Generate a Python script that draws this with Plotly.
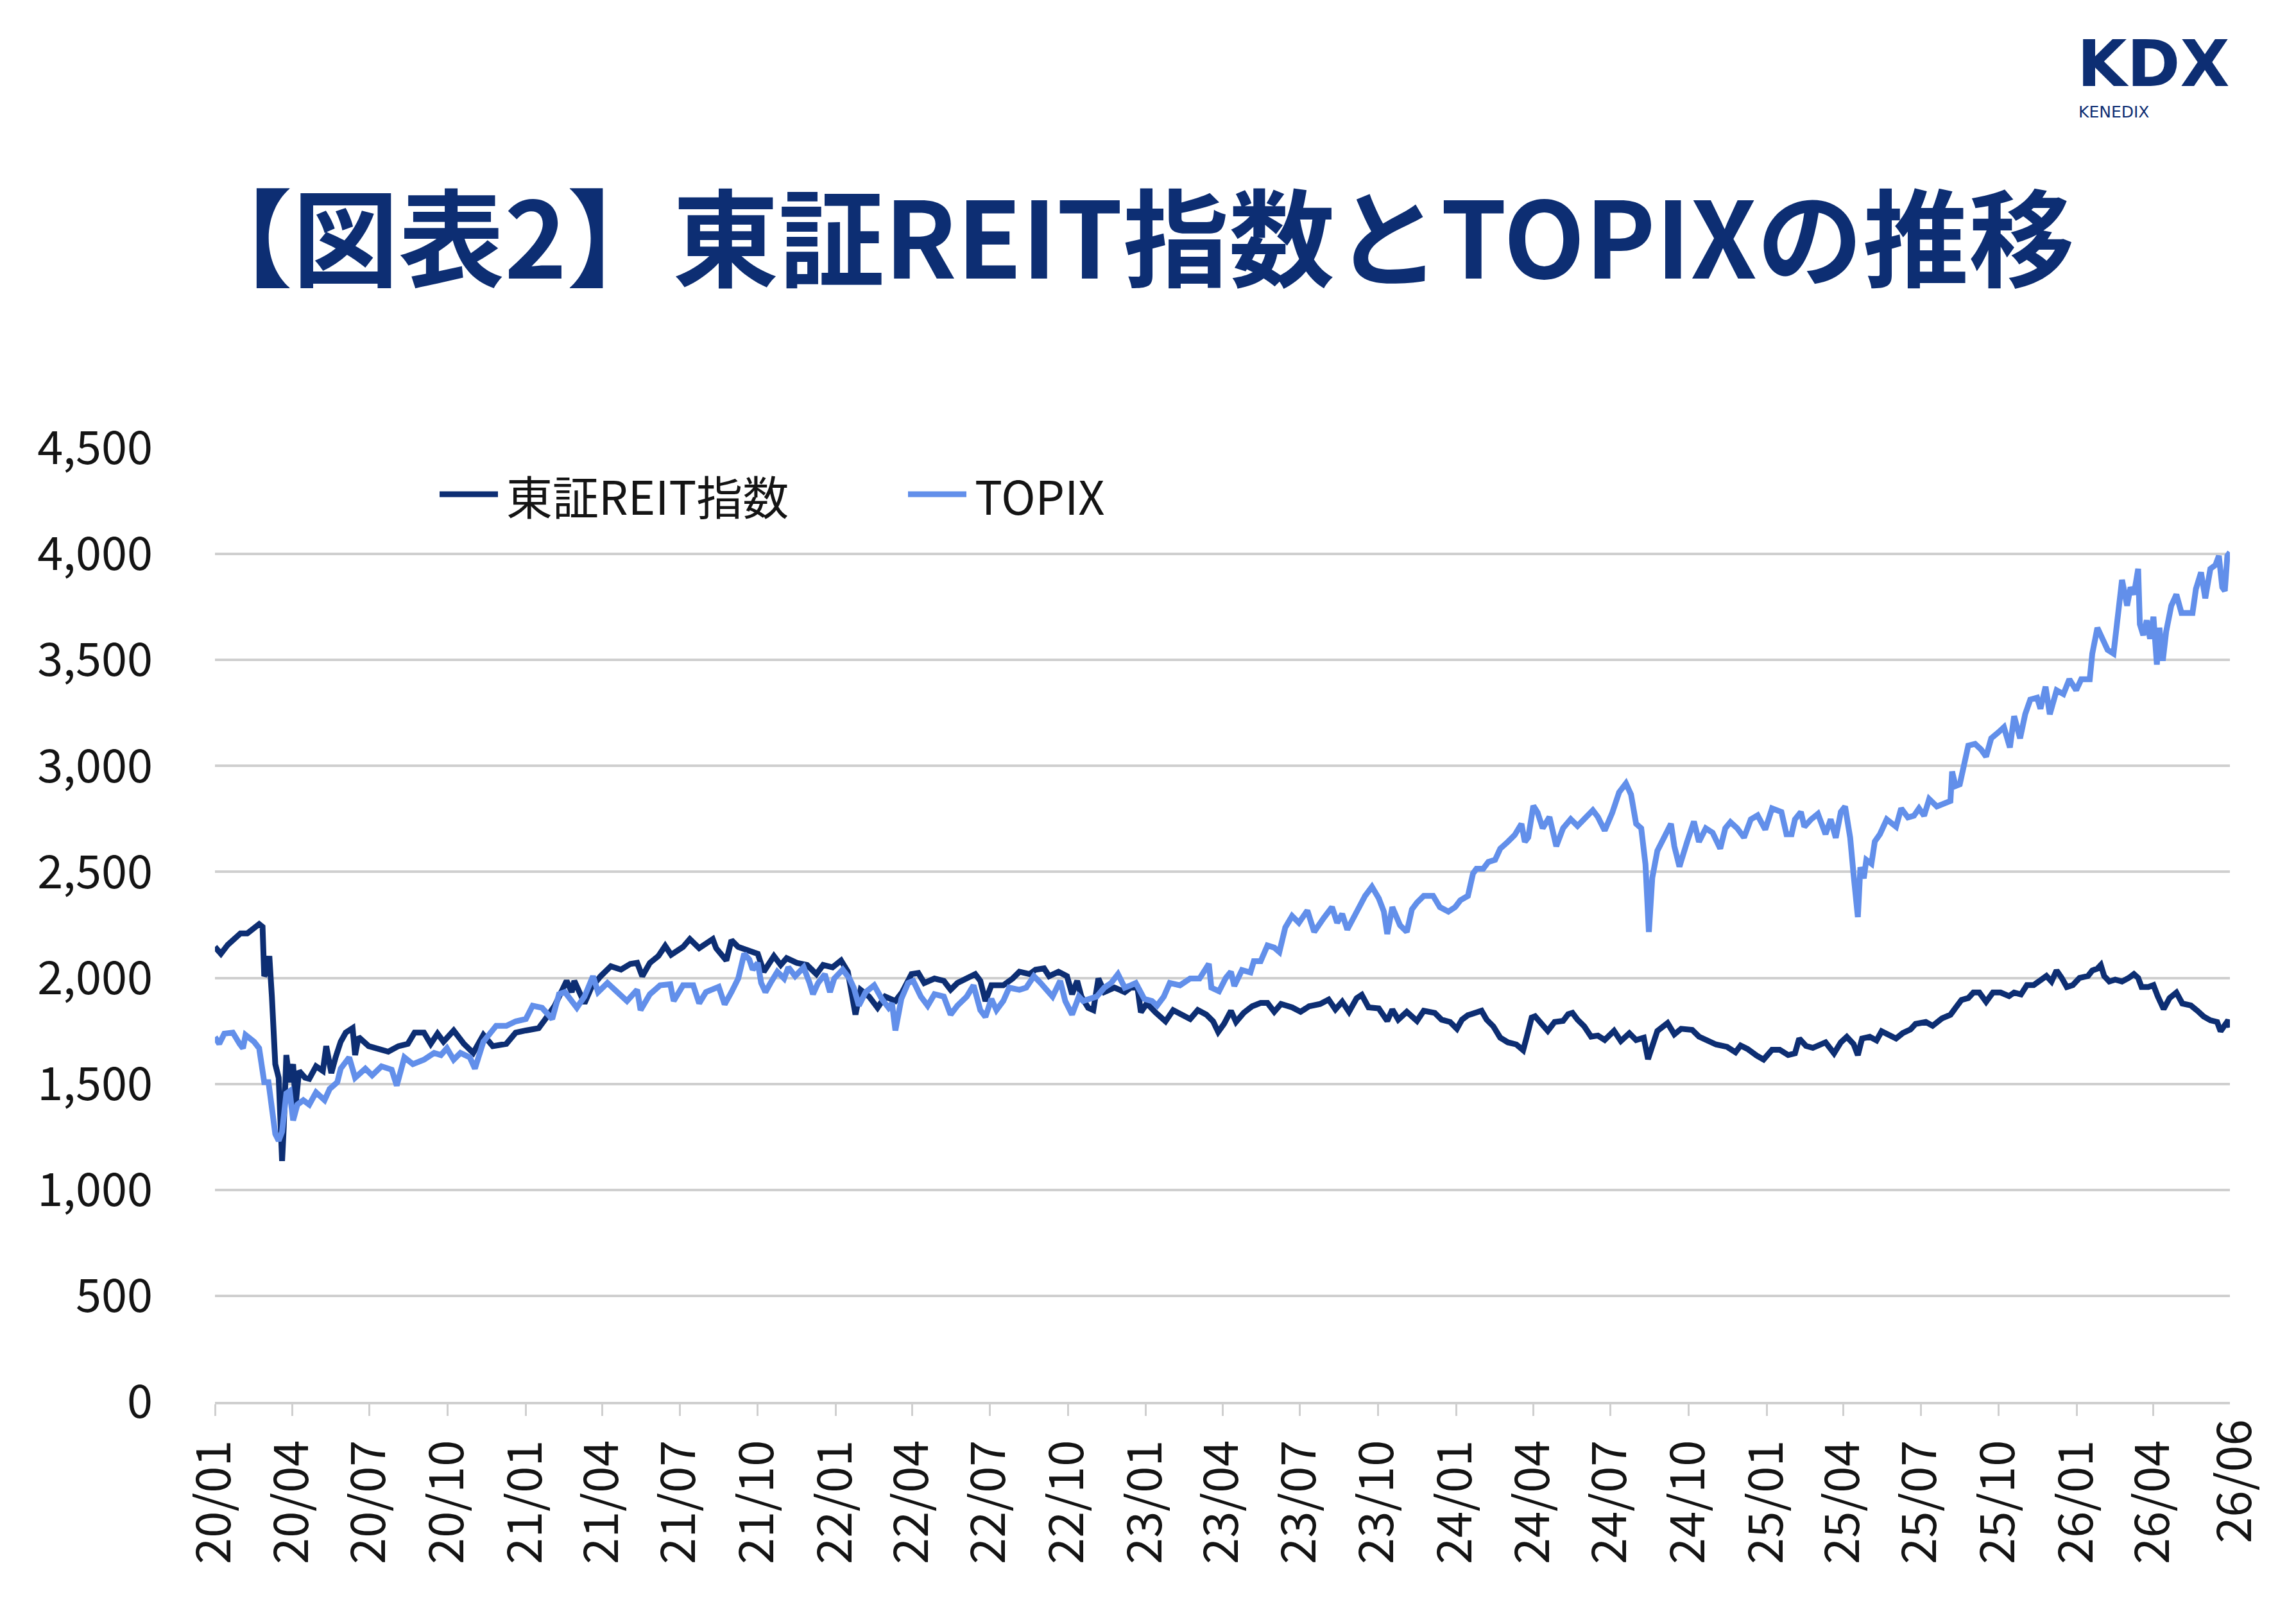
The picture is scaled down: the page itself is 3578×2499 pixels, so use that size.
import pandas as pd
import plotly.graph_objects as go

# ---- data (day offset from 2020-01-01, index value) ----
reit_day = [0, 7, 15, 23, 30, 38, 46, 52, 56, 58, 62, 64, 67, 71, 75, 79, 81, 84, 88, 92, 95, 99, 106, 111,
            119, 127, 131, 137, 142, 148, 154, 162, 165, 169, 181, 192, 204, 216, 227, 235, 246, 254, 262,
            269, 281, 293, 304, 316, 327, 343, 354, 366, 381, 389, 400, 414, 420, 423, 435, 443, 454, 466,
            478, 489, 497, 503, 512, 522, 530, 537, 551, 559, 570, 586, 590, 602, 608, 616, 623, 639, 646,
            658, 666, 673, 685, 697, 708, 716, 727, 737, 745, 751, 754, 760, 770, 780, 789, 801, 809, 820,
            828, 835, 847, 858, 866, 874, 885, 895, 901, 907, 914, 928, 939, 947, 959, 966, 976, 982, 993,
            1003, 1009, 1015, 1020, 1028, 1034, 1040, 1047, 1059, 1065, 1071, 1078, 1086, 1090, 1097, 1107,
            1119, 1128, 1140, 1148, 1157, 1167, 1175, 1181, 1188, 1196, 1202, 1211, 1221, 1231, 1239, 1247,
            1255, 1268, 1278, 1288, 1301, 1311, 1319, 1327, 1335, 1344, 1350, 1358, 1370, 1380, 1386, 1393,
            1403, 1415, 1423, 1436, 1444, 1454, 1462, 1468, 1475, 1485, 1491, 1497, 1505, 1513, 1522, 1532,
            1540, 1544, 1550, 1554, 1563, 1569, 1577, 1587, 1593, 1598, 1604, 1612, 1620, 1628, 1636, 1647,
            1655, 1665, 1673, 1682, 1687, 1692, 1698, 1710, 1718, 1726, 1739, 1747, 1755, 1767, 1780, 1790,
            1796, 1804, 1815, 1823, 1833, 1842, 1852, 1860, 1865, 1873, 1881, 1889, 1896, 1906, 1914, 1921,
            1929, 1934, 1939, 1948, 1956, 1962, 1970, 1979, 1987, 1996, 2002, 2014, 2022, 2033, 2043, 2050,
            2056, 2064, 2070, 2077, 2085, 2093, 2102, 2112, 2118, 2126, 2133, 2141, 2149, 2156, 2162, 2168,
            2174, 2180, 2187, 2195, 2205, 2210, 2216, 2220, 2224, 2230, 2237, 2245, 2253, 2259, 2264, 2268,
            2276, 2282, 2287, 2294, 2301, 2309, 2316, 2326, 2334, 2341, 2349, 2357, 2361, 2366, 2370, 2372]
reit_val = [2146, 2114, 2156, 2188, 2210, 2210, 2236, 2254, 2241, 2008, 2040, 2103, 1912, 1593, 1529, 1136,
            1296, 1636, 1508, 1593, 1402, 1561, 1529, 1524, 1583, 1561, 1678, 1551, 1625, 1699, 1742, 1763,
            1636, 1721, 1678, 1668, 1652, 1678, 1689, 1742, 1742, 1689, 1737, 1699, 1752, 1689, 1646, 1731,
            1678, 1689, 1742, 1752, 1763, 1806, 1869, 1986, 1933, 1986, 1880, 1954, 2008, 2055, 2039, 2066,
            2071, 2008, 2071, 2103, 2151, 2109, 2146, 2183, 2140, 2183, 2140, 2082, 2178, 2146, 2135, 2114,
            2029, 2103, 2061, 2093, 2071, 2061, 2018, 2061, 2050, 2082, 2029, 1912, 1827, 1944, 1912, 1859,
            1912, 1891, 1933, 2018, 2023, 1976, 1997, 1986, 1944, 1976, 1997, 2018, 1986, 1891, 1965, 1965,
            1997, 2029, 2018, 2039, 2045, 2008, 2029, 2008, 1923, 1986, 1912, 1859, 1848, 1997, 1933, 1954,
            1944, 1933, 1954, 1954, 1838, 1880, 1838, 1795, 1848, 1827, 1806, 1848, 1827, 1795, 1745, 1784,
            1845, 1792, 1835, 1866, 1882, 1882, 1840, 1877, 1861, 1840, 1866, 1877, 1898, 1851, 1888, 1840,
            1904, 1920, 1861, 1856, 1797, 1851, 1803, 1840, 1797, 1845, 1835, 1803, 1792, 1760, 1803, 1824,
            1840, 1845, 1803, 1771, 1718, 1696, 1686, 1659, 1718, 1813, 1819, 1781, 1750, 1792, 1797, 1829,
            1835, 1803, 1771, 1723, 1728, 1707, 1750, 1702, 1739, 1707, 1718, 1617, 1686, 1750, 1787, 1734,
            1760, 1755, 1723, 1707, 1686, 1675, 1649, 1681, 1665, 1633, 1615, 1661, 1661, 1636, 1644, 1714,
            1679, 1670, 1688, 1696, 1644, 1696, 1722, 1688, 1636, 1714, 1722, 1705, 1748, 1731, 1714, 1740,
            1757, 1783, 1792, 1774, 1809, 1826, 1861, 1896, 1905, 1931, 1931, 1887, 1931, 1931, 1914, 1931,
            1922, 1966, 1966, 1992, 2009, 1983, 2035, 2000, 1957, 1966, 2000, 2009, 2035, 2044, 2061, 2009,
            1983, 1992, 1983, 2000, 2018, 2000, 1957, 1957, 1966, 1914, 1853, 1905, 1931, 1879, 1870, 1844,
            1818, 1800, 1792, 1748, 1774, 1800, 1766]

topix_day = [0, 5, 11, 21, 29, 33, 36, 46, 52, 54, 58, 63, 67, 71, 75, 79, 84, 88, 92, 97, 104, 111, 119,
             129, 135, 144, 148, 158, 165, 177, 185, 196, 208, 214, 223, 233, 246, 258, 266, 273, 281, 289,
             300, 306, 316, 331, 343, 354, 366, 374, 385, 397, 405, 412, 426, 435, 445, 451, 462, 478, 485,
             497, 501, 512, 524, 536, 540, 551, 563, 570, 578, 593, 600, 608, 616, 623, 629, 633, 639, 643,
             648, 654, 662, 670, 675, 683, 693, 700, 704, 710, 718, 724, 729, 739, 747, 752, 758, 766, 776,
             785, 793, 797, 801, 808, 816, 822, 831, 839, 847, 858, 866, 874, 885, 893, 901, 907, 914, 920,
             928, 935, 947, 955, 964, 972, 978, 986, 995, 1001, 1009, 1017, 1022, 1028, 1038, 1047, 1055,
             1063, 1071, 1078, 1084, 1094, 1103, 1109, 1117, 1124, 1136, 1148, 1159, 1170, 1173, 1182, 1190,
             1196, 1200, 1209, 1219, 1223, 1231, 1239, 1247, 1253, 1260, 1268, 1276, 1286, 1294, 1305, 1315,
             1321, 1327, 1333, 1346, 1354, 1362, 1370, 1376, 1380, 1386, 1395, 1403, 1409, 1415, 1423, 1434,
             1442, 1452, 1460, 1466, 1475, 1481, 1485, 1493, 1499, 1507, 1513, 1522, 1530, 1538, 1542, 1546,
             1552, 1557, 1563, 1571, 1579, 1587, 1596, 1604, 1612, 1622, 1628, 1636, 1645, 1653, 1661, 1667,
             1673, 1679, 1684, 1688, 1692, 1698, 1706, 1714, 1718, 1724, 1733, 1741, 1747, 1755, 1763, 1772,
             1778, 1784, 1792, 1800, 1808, 1816, 1825, 1833, 1844, 1850, 1856, 1860, 1867, 1871, 1879, 1887,
             1896, 1902, 1908, 1914, 1919, 1925, 1929, 1934, 1937, 1941, 1944, 1950, 1954, 1960, 1968, 1973,
             1979, 1985, 1993, 2000, 2006, 2012, 2018, 2027, 2037, 2043, 2045, 2049, 2054, 2060, 2064, 2072,
             2079, 2085, 2091, 2099, 2106, 2113, 2118, 2125, 2131, 2137, 2145, 2149, 2155, 2160, 2168, 2176,
             2183, 2191, 2197, 2207, 2210, 2216, 2222, 2228, 2235, 2239, 2245, 2251, 2255, 2259, 2264, 2266,
             2270, 2274, 2278, 2282, 2286, 2289, 2293, 2297, 2303, 2309, 2315, 2320, 2328, 2332, 2338, 2343,
             2349, 2355, 2359, 2363, 2366, 2369, 2372]
topix_val = [1721, 1689, 1737, 1742, 1689, 1668, 1731, 1699, 1668, 1614, 1508, 1508, 1381, 1264, 1232, 1274,
             1455, 1466, 1328, 1402, 1423, 1402, 1460, 1423, 1476, 1508, 1572, 1625, 1529, 1572, 1540, 1583,
             1567, 1492, 1625, 1593, 1614, 1646, 1636, 1668, 1614, 1646, 1625, 1572, 1699, 1774, 1774, 1795,
             1806, 1869, 1859, 1806, 1923, 1933, 1859, 1912, 2008, 1933, 1976, 1912, 1891, 1944, 1848, 1923,
             1965, 1970, 1891, 1965, 1965, 1880, 1933, 1958, 1875, 1933, 1997, 2114, 2087, 2039, 2071, 1976,
             1933, 1976, 2029, 1997, 2050, 2008, 2050, 1976, 1923, 1976, 2018, 1933, 1997, 2039, 1997, 1954,
             1869, 1933, 1965, 1901, 1859, 1880, 1752, 1901, 1976, 1986, 1912, 1869, 1923, 1912, 1827, 1869,
             1912, 1965, 1848, 1816, 1901, 1848, 1891, 1954, 1944, 1954, 2008, 1976, 1944, 1912, 1986, 1891,
             1827, 1912, 1891, 1901, 1912, 1954, 1976, 2018, 1954, 1965, 1976, 1901, 1891, 1869, 1912, 1976,
             1965, 1997, 1997, 2066, 1954, 1937, 2000, 2029, 1962, 2037, 2026, 2079, 2079, 2153, 2143, 2122,
             2238, 2292, 2260, 2318, 2217, 2281, 2334, 2260, 2302, 2228, 2334, 2387, 2430, 2376, 2313, 2207,
             2334, 2249, 2217, 2323, 2355, 2387, 2387, 2334, 2313, 2334, 2366, 2387, 2493, 2515, 2515, 2547,
             2557, 2610, 2642, 2674, 2727, 2642, 2663, 2812, 2780, 2706, 2759, 2621, 2706, 2749, 2717, 2749,
             2791, 2759, 2695, 2780, 2876, 2918, 2865, 2727, 2706, 2536, 2217, 2472, 2600, 2663, 2727, 2621,
             2525, 2642, 2738, 2642, 2706, 2685, 2610, 2706, 2735, 2706, 2662, 2748, 2767, 2700, 2800, 2783,
             2678, 2678, 2748, 2783, 2713, 2748, 2774, 2678, 2748, 2661, 2783, 2809, 2661, 2487, 2287, 2522,
             2470, 2557, 2539, 2644, 2678, 2748, 2731, 2713, 2800, 2757, 2765, 2800, 2765, 2844, 2809, 2826,
             2835, 2974, 2905, 2913, 3009, 3096, 3104, 3078, 3044, 3130, 3157, 3183, 3087, 3235, 3130, 3244,
             3313, 3322, 3270, 3374, 3244, 3357, 3339, 3409, 3357, 3409, 3409, 3530, 3652, 3600, 3548, 3530,
             3669, 3878, 3756, 3843, 3809, 3930, 3669, 3617, 3687, 3600, 3704, 3478, 3652, 3496, 3635, 3756,
             3809, 3722, 3722, 3722, 3835, 3913, 3791, 3930, 3948, 3991, 3843, 3826, 3991, 4008]

series_names = ["東証REIT指数", "TOPIX"]
title_text = "【図表2】東証REIT指数とTOPIXの推移"
logo_main = "KDX"
logo_sub = "KENEDIX"
start_date = "2020-01-01"
end_date = "2026-06-30"
end_label = "26/06"
y_ticks = [0, 500, 1000, 1500, 2000, 2500, 3000, 3500, 4000, 4500]

NAVY = "#0d2e73"
LIGHT = "#628fea"
GRID = "#cfcfcf"
TXT = "#141414"
FONT = "Noto Sans CJK JP"
LW = 9

base = pd.Timestamp(start_date)
reit_x = base + pd.to_timedelta(reit_day, unit="D")
topix_x = base + pd.to_timedelta(topix_day, unit="D")

q_ticks = pd.date_range(start_date, "2026-04-01", freq="QS")
tick_vals = list(q_ticks)
tick_text = [d.strftime("%y/%m") for d in q_ticks]

fig = go.Figure()
fig.add_trace(go.Scatter(x=reit_x, y=reit_val, mode="lines", name=series_names[0],
                         line=dict(color=NAVY, width=LW)))
fig.add_trace(go.Scatter(x=topix_x, y=topix_val, mode="lines", name=series_names[1],
                         line=dict(color=LIGHT, width=LW)))

W, H = 3578, 2499
L, R, T, B = 335, 103, 698, 315
PW, PH = W - L - R, H - T - B


def px_x(p):
    return (p - L) / PW


def px_y(p):
    return (H - B - p) / PH


fig.update_layout(
    width=W, height=H,
    margin=dict(l=L, r=R, t=T, b=B, autoexpand=False),
    paper_bgcolor="white", plot_bgcolor="white",
    showlegend=False,
    font=dict(family=FONT, color=TXT, size=72),
    xaxis=dict(
        type="date", range=[start_date, end_date],
        tickmode="array", tickvals=tick_vals, ticktext=tick_text,
        tickangle=-90, ticks="outside", ticklen=18, tickwidth=3, tickcolor=GRID,
        showline=True, linecolor=GRID, linewidth=4, showgrid=False,
        tickfont=dict(family=FONT, size=74, color=TXT), ticklabelstandoff=8,
        automargin=False,
    ),
    yaxis=dict(
        range=[0, 4500], tickmode="array", tickvals=y_ticks, tickformat=",",
        showgrid=True, gridcolor=GRID, gridwidth=4, zeroline=False, showline=False,
        tickfont=dict(family=FONT, size=72, color=TXT), ticklabelstandoff=96,
        automargin=False,
    ),
)

# last date label at the axis end
fig.add_annotation(x=end_date, xref="x", y=0, yref="paper", yshift=-26,
                   text=end_label, textangle=-90, showarrow=False,
                   xanchor="center", yanchor="top",
                   font=dict(family=FONT, size=74, color=TXT))

# title
fig.add_annotation(x=px_x(289), xref="paper", y=px_y(363), yref="paper",
                   text="<b>" + title_text + "</b>", showarrow=False,
                   xanchor="left", yanchor="middle",
                   font=dict(family=FONT, size=165, color=NAVY))

# logo texts
fig.add_annotation(x=px_x(3236), xref="paper", y=px_y(99), yref="paper",
                   text="<b>" + logo_main + "</b>", showarrow=False,
                   xanchor="left", yanchor="middle", borderpad=0,
                   font=dict(family="DejaVu Sans", size=100, color=NAVY))
fig.add_annotation(x=px_x(3238), xref="paper", y=px_y(174), yref="paper",
                   text=logo_sub, showarrow=False,
                   xanchor="left", yanchor="middle", borderpad=0,
                   font=dict(family="DejaVu Sans", size=25, color=NAVY))

# legend (manual)
leg_y = px_y(770)
for (x0, x1, tx, name, col) in [(685, 776, 787, series_names[0], NAVY),
                                (1415, 1506, 1517, series_names[1], LIGHT)]:
    fig.add_shape(type="line", xref="paper", yref="paper",
                  x0=px_x(x0), x1=px_x(x1), y0=leg_y, y1=leg_y,
                  line=dict(color=col, width=LW))
    fig.add_annotation(x=px_x(tx), xref="paper", y=leg_y, yref="paper",
                       text=name, showarrow=False, xanchor="left", yanchor="middle",
                       font=dict(family=FONT, size=72, color=TXT))

fig.write_html("out.html")
